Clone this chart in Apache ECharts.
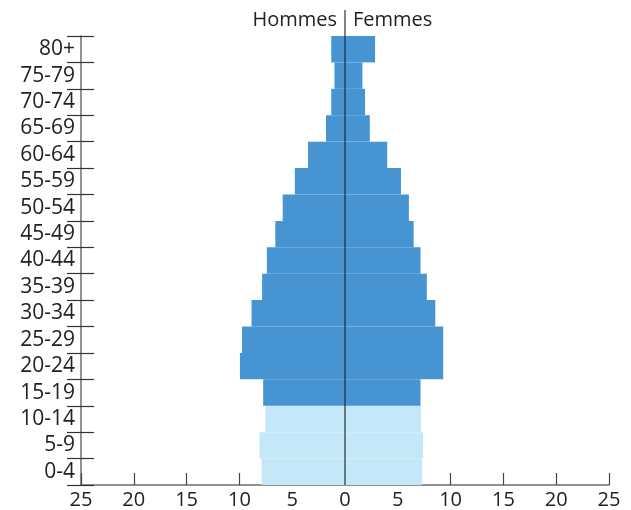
<!DOCTYPE html>
<html>
<head>
<meta charset="utf-8">
<script src="https://cdn.jsdelivr.net/npm/echarts@6/dist/echarts.min.js"></script>
<style>
  html, body { margin: 0; padding: 0; background: #fff; }
  #chart { width: 631px; height: 510px; }
</style>
</head>
<body>
<div id="chart"></div>
<script>
// age groups, bottom to top
const ageGroups = ["0-4", "5-9", "10-14", "15-19", "20-24", "25-29", "30-34", "35-39",
  "40-44", "45-49", "50-54", "55-59", "60-64", "65-69", "70-74", "75-79", "80+"];
// percent of population
const hommes = [7.9, 8.1, 7.55, 7.75, 9.95, 9.75, 8.85, 7.85, 7.4, 6.6, 5.9, 4.75, 3.5, 1.8, 1.3, 1.0, 1.3];
const femmes = [7.3, 7.4, 7.2, 7.15, 9.3, 9.3, 8.55, 7.75, 7.15, 6.5, 6.05, 5.3, 4.0, 2.35, 1.9, 1.65, 2.85];
const youngCount = 3; // 0-14 drawn in light blue

const dark = "#4694d2";
const light = "#c5e8f8";
const font = "'Open Sans', sans-serif";

const chart = echarts.init(document.getElementById("chart"));

const colorOf = p => (p.dataIndex < youngCount ? light : dark);

chart.setOption({
  animation: false,
  grid: { left: 81, right: 22, top: 36, bottom: 25, containLabel: false },
  xAxis: {
    type: "value",
    min: -25, max: 25, interval: 5,
    axisLine: { show: true, onZero: false, lineStyle: { color: "#6e6e6e", width: 1.5 } },
    axisTick: { show: true, inside: true, length: 12, lineStyle: { color: "#444", width: 1.2 } },
    splitLine: { show: false },
    axisLabel: {
      margin: 5, fontSize: 20, color: "#222", fontFamily: font,
      formatter: v => String(Math.abs(v))
    }
  },
  yAxis: [
    {
      type: "category",
      data: ageGroups,
      axisLine: { show: true, onZero: false, lineStyle: { color: "#6e6e6e", width: 1.5 } },
      axisTick: { show: true, interval: 0, length: 14, lineStyle: { color: "#333", width: 1.2 } },
      axisLabel: { interval: 0, margin: 6, fontSize: 21, color: "#222", fontFamily: font }
    },
    {
      type: "category",
      data: ageGroups,
      position: "left",
      axisLine: { show: false, onZero: false },
      axisTick: { show: true, interval: 0, inside: true, length: 13, lineStyle: { color: "#333", width: 1.2 } },
      axisLabel: { show: false }
    }
  ],
  series: [
    {
      name: "Hommes",
      type: "bar",
      stack: "pop",
      barCategoryGap: 0,
      data: hommes.map(v => -v),
      itemStyle: { color: colorOf }
    },
    {
      name: "Femmes",
      type: "bar",
      stack: "pop",
      barCategoryGap: 0,
      data: femmes,
      itemStyle: { color: colorOf }
    }
  ]
});

// centre line and header labels
const x0 = chart.convertToPixel({ xAxisIndex: 0 }, 0);
const yBottom = chart.convertToPixel({ yAxisIndex: 0 }, ageGroups[0]);
const band = Math.abs(chart.convertToPixel({ yAxisIndex: 0 }, ageGroups[1]) - yBottom);
const axisY = yBottom + band / 2;

chart.setOption({
  graphic: [
    {
      type: "line",
      shape: { x1: x0, y1: 10, x2: x0, y2: axisY },
      style: { stroke: "rgba(25,35,45,0.7)", lineWidth: 1.6 },
      z: 100
    },
    {
      type: "text",
      x: x0 - 8, y: 20,
      style: { text: "Hommes", fill: "#222", font: "20px " + font, align: "right", verticalAlign: "middle" }
    },
    {
      type: "text",
      x: x0 + 8, y: 20,
      style: { text: "Femmes", fill: "#222", font: "20px " + font, align: "left", verticalAlign: "middle" }
    }
  ]
});
</script>
</body>
</html>
